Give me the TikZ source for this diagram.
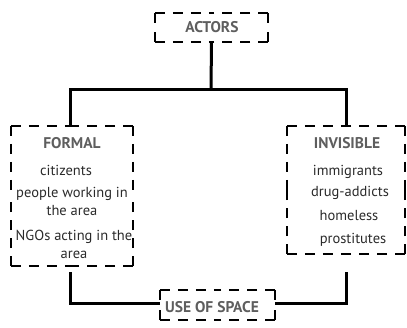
\documentclass[tikz,border=0pt]{standalone}
\usepackage{fontspec}
\setmainfont{PT Sans}
\definecolor{titlegray}{HTML}{5E5E5E}
\definecolor{bodygray}{HTML}{2A2A2A}
\tikzset{
  box/.style={rectangle, draw=none, inner sep=0pt},
  dsh/.style={line width=2.5pt, dash pattern=on 10pt off 8pt, black},
  conn/.style={line width=3pt, black},
  ttl/.style={font=\fontsize{15.5}{17}\selectfont\bfseries, text=titlegray, inner sep=0pt},
  txt/.style={font=\fontsize{14.5}{16}\selectfont, text=bodygray, inner sep=0pt, anchor=base},
}
\begin{document}
\begin{tikzpicture}[x=1pt,y=-1pt]
\useasboundingbox (0,0) rectangle (407,327);
% boxes
\node[box, minimum width=113pt, minimum height=29pt] (actors) at (211.5,27.5) {};
\node[box, minimum width=122pt, minimum height=140pt] (formal) at (72,196) {};
\node[box, minimum width=118pt, minimum height=128pt] (invisible) at (346,190) {};
\node[box, minimum width=115pt, minimum height=30pt] (use) at (217.5,305) {};
\foreach \b in {actors,formal,invisible,use}{
  \draw[dsh] (\b.north west) -- (\b.north) (\b.north east) -- (\b.north)
             (\b.south west) -- (\b.south) (\b.south east) -- (\b.south)
             (\b.north west) -- (\b.west) (\b.south west) -- (\b.west)
             (\b.north east) -- (\b.east) (\b.south east) -- (\b.east);
}
% texts
\node[ttl] (tactors) at (212,27) {ACTORS};
\node[ttl] (tformal) at (72,143) {FORMAL};
\node[ttl] (tinvis) at (347,143) {INVISIBLE};
\node[ttl] (tuse) at (212,307) {USE OF SPACE};
\node[txt] (f1) at (66,175) {citizents};
\node[txt] (f2) at (72,197) {people working in};
\node[txt] (f3) at (72,215) {the area};
\node[txt] (f4) at (74,240) {NGOs acting in the};
\node[txt] (f5) at (74,258) {area};
\node[txt] (i1) at (348,175) {immigrants};
\node[txt] (i2) at (350,196) {drug-addicts};
\node[txt] (i3) at (349,220) {homeless};
\node[txt] (i4) at (353,243) {prostitutes};
% connectors
\coordinate (junction) at (211,89);
\draw[conn] (actors.south) -- (junction);
\draw[conn] ([xshift=-2pt]formal.north) |- (junction) -| (invisible.north);
\draw[conn] ([xshift=-2pt,yshift=-6pt]formal.south) |- ([yshift=2pt]use.west);
\draw[conn] ([yshift=-18pt]invisible.south) |- ([yshift=2pt]use.east);
\end{tikzpicture}
\end{document}
